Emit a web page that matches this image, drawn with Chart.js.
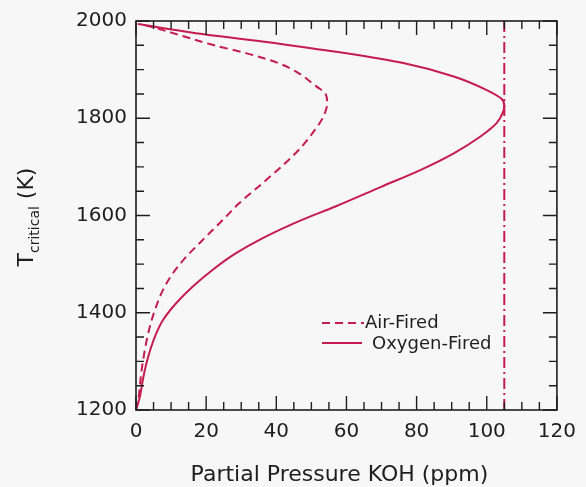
<!DOCTYPE html>
<html>
<head>
<meta charset="utf-8">
<script src="https://cdn.jsdelivr.net/npm/chart.js@4.4.0/dist/chart.umd.min.js"></script>
<style>
  body { margin: 0; background: #f7f7f7; }
  canvas { display: block; }
</style>
</head>
<body>
<canvas id="chart" width="586" height="487"></canvas>
<script>
// pressure (ppm) vs critical temperature (K)
const oxyPressure = [0, 1.1, 2.1, 3.5, 5.4, 7.7, 11.5, 16.2, 21.8, 28.4, 36.0, 47.3, 56.7, 69.9, 81.2, 90.6, 98.1, 102.8, 104.6, 105.0, 104.2, 100.0, 90.6, 76.5, 59.5, 36.0, 17.1, 0.5];
const oxyTemp     = [1200, 1227, 1268, 1310, 1351, 1385, 1420, 1454, 1488, 1522, 1553, 1591, 1618, 1659, 1694, 1728, 1762, 1790, 1812, 1826, 1840, 1858, 1886, 1913, 1934, 1958, 1975, 1994];

const airPressure = [0, 0.65, 1.6, 3.5, 5.4, 7.7, 10.5, 14.3, 18.1, 21.4, 25.3, 29.4, 36.0, 42.6, 47.3, 51.0, 53.4, 54.5, 53.9, 51.5, 46.3, 40.7, 31.3, 21.8, 12.4, 5.8, 1.1];
const airTemp     = [1200, 1221, 1282, 1358, 1406, 1447, 1481, 1515, 1543, 1567, 1595, 1625, 1666, 1708, 1742, 1776, 1803, 1831, 1852, 1865, 1893, 1913, 1934, 1951, 1971, 1985, 1994];

const limitPressure = 105;
const xTicks = [0, 20, 40, 60, 80, 100, 120];
const yTicks = [1200, 1400, 1600, 1800, 2000];

const red = "#c51b4e";
const ink = "#1e1e1e";
const fontName = "'DejaVu Sans', sans-serif";

function toPoints(xs, ys) {
  let pts = [];
  for (let i = 0; i < xs.length; i++) pts.push({ x: xs[i], y: ys[i] });
  return pts;
}

const frame = {
  id: "frame",
  afterDraw(chart) {
    const ctx = chart.ctx;
    const a = chart.chartArea;
    const xs = chart.scales.x;
    const ys = chart.scales.y;
    ctx.save();
    ctx.strokeStyle = ink;
    ctx.lineWidth = 1.6;
    ctx.strokeRect(a.left, a.top, a.right - a.left, a.bottom - a.top);

    // inward ticks on all four sides
    ctx.lineWidth = 1.4;
    for (let v = 0; v <= 120; v += 5) {
      let px = xs.getPixelForValue(v);
      let len = v % 20 == 0 ? 14 : 8;
      ctx.beginPath();
      ctx.moveTo(px, a.bottom); ctx.lineTo(px, a.bottom - len);
      ctx.moveTo(px, a.top); ctx.lineTo(px, a.top + len);
      ctx.stroke();
    }
    for (let v = 1200; v <= 2000; v += 50) {
      let py = ys.getPixelForValue(v);
      let len = v % 200 == 0 ? 14 : 8;
      ctx.beginPath();
      ctx.moveTo(a.left, py); ctx.lineTo(a.left + len, py);
      ctx.moveTo(a.right, py); ctx.lineTo(a.right - len, py);
      ctx.stroke();
    }

    // legend
    ctx.strokeStyle = red;
    ctx.lineWidth = 2;
    ctx.setLineDash([8, 5]);
    ctx.beginPath(); ctx.moveTo(a.left + 186, a.top + 302); ctx.lineTo(a.left + 228, a.top + 302); ctx.stroke();
    ctx.setLineDash([]);
    ctx.beginPath(); ctx.moveTo(a.left + 186, a.top + 322); ctx.lineTo(a.left + 226, a.top + 322); ctx.stroke();
    ctx.fillStyle = ink;
    ctx.font = "18px " + fontName;
    ctx.textBaseline = "middle";
    ctx.fillText("Air-Fired", a.left + 229, a.top + 302);
    ctx.fillText("Oxygen-Fired", a.left + 236, a.top + 323);

    // axis titles
    ctx.font = "22px " + fontName;
    ctx.textAlign = "center";
    ctx.textBaseline = "alphabetic";
    ctx.fillText("Partial Pressure KOH (ppm)", (a.left + a.right) / 2 - 7, 481);

    ctx.translate(33, 217);
    ctx.rotate(-Math.PI / 2);
    ctx.textAlign = "left";
    const big = "22px " + fontName, small = "14px " + fontName;
    ctx.font = big; let w1 = ctx.measureText("T").width; let w3 = ctx.measureText(" (K)").width;
    ctx.font = small; let w2 = ctx.measureText("critical").width;
    let start = -(w1 + w2 + w3) / 2;
    ctx.font = big; ctx.fillText("T", start, 0);
    ctx.font = small; ctx.fillText("critical", start + w1, 6);
    ctx.font = big; ctx.fillText(" (K)", start + w1 + w2, 0);
    ctx.restore();
  }
};

new Chart("chart", {
  type: "scatter",
  data: {
    datasets: [
      {
        label: "limit",
        data: [{ x: limitPressure, y: 1200 }, { x: limitPressure, y: 2000 }],
        showLine: true,
        borderColor: red,
        borderWidth: 2,
        borderDash: [11, 4, 2, 4],
        pointRadius: 0,
      },
      {
        label: "Air-Fired",
        data: toPoints(airPressure, airTemp),
        showLine: true,
        borderColor: red,
        borderWidth: 2,
        borderDash: [8, 5],
        cubicInterpolationMode: "monotone",
        pointRadius: 0,
      },
      {
        label: "Oxygen-Fired",
        data: toPoints(oxyPressure, oxyTemp),
        showLine: true,
        borderColor: red,
        borderWidth: 2,
        cubicInterpolationMode: "monotone",
        pointRadius: 0,
      },
    ],
  },
  options: {
    indexAxis: "y",
    responsive: false,
    animation: false,
    layout: { padding: { top: 21, right: 25, left: 0, bottom: 0 } },
    plugins: { legend: { display: false }, tooltip: { enabled: false } },
    scales: {
      x: {
        type: "linear",
        position: "bottom",
        min: 0,
        max: 120,
        afterBuildTicks: (s) => { s.ticks = xTicks.map((v) => ({ value: v })); },
        afterFit: (s) => { s.height = 77; },
        grid: { display: false, drawTicks: false },
        border: { display: false },
        ticks: { color: ink, padding: 10, maxRotation: 0, autoSkip: false, font: { family: fontName, size: 20 },
          callback: (v) => String(v) },
      },
      y: {
        type: "linear",
        position: "left",
        min: 1200,
        max: 2000,
        afterBuildTicks: (s) => { s.ticks = yTicks.map((v) => ({ value: v })); },
        afterFit: (s) => { s.width = 136; },
        grid: { display: false, drawTicks: false },
        border: { display: false },
        ticks: { color: ink, padding: 9, font: { family: fontName, size: 20 },
          callback: (v) => String(v) },
      },
    },
  },
  plugins: [frame],
});
</script>
</body>
</html>
